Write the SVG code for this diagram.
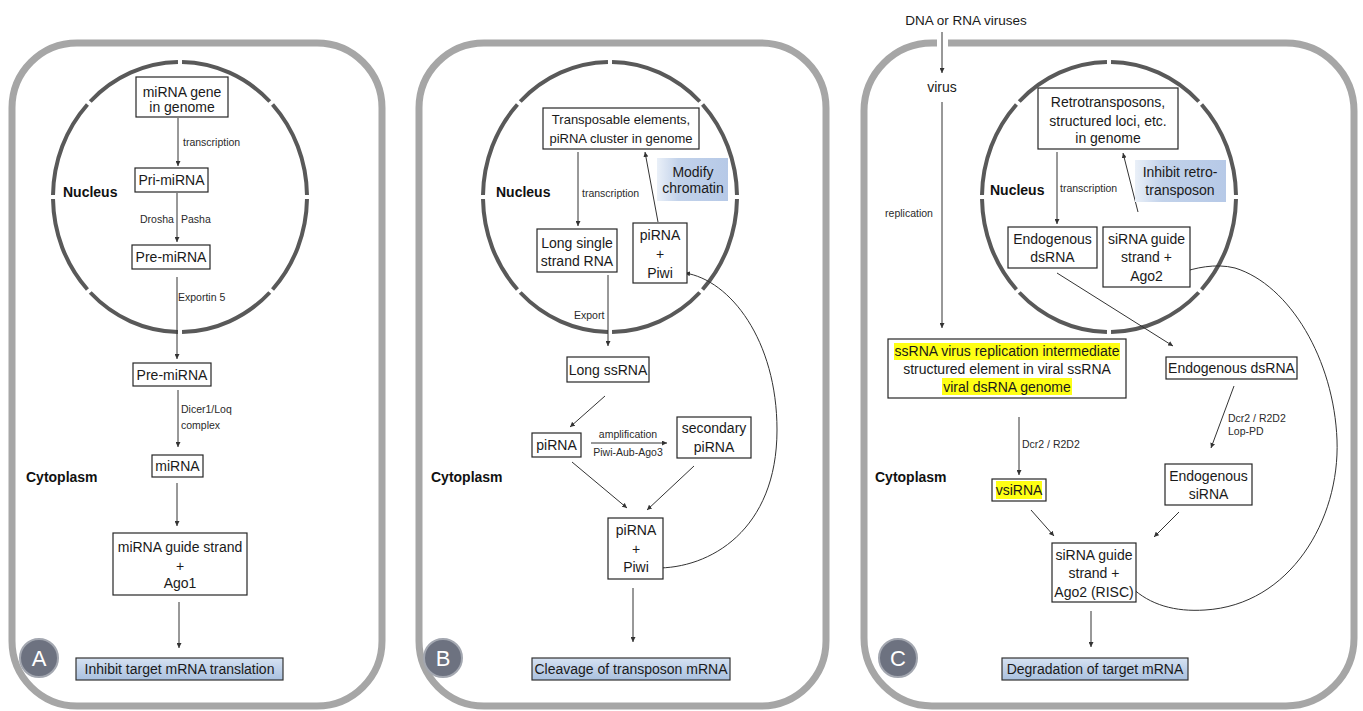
<svg xmlns="http://www.w3.org/2000/svg" width="1363" height="711" viewBox="0 0 1363 711">
<style>
.panel{fill:#fff;stroke:#a6a6a6;stroke-width:7}
.nuc{fill:none;stroke:#595959;stroke-width:4;stroke-dasharray:96 4;stroke-dashoffset:98}
.box{fill:#fff;stroke:#262626;stroke-width:1.2}
.res{fill:url(#resg);stroke:#333;stroke-width:1.2}
.eff{fill:url(#effg);stroke:none}
.t{font-family:"Liberation Sans",Arial,sans-serif;font-size:14px;fill:#1a1a1a}
.c{text-anchor:middle}
.s{font-family:"Liberation Sans",Arial,sans-serif;font-size:10.5px;fill:#2a2a2a}
.b{font-family:"Liberation Sans",Arial,sans-serif;font-size:14px;font-weight:bold;fill:#111}
.arr{fill:none;stroke:#333;stroke-width:1;marker-end:url(#ah)}
.cur{fill:none;stroke:#333;stroke-width:1}
.lab{fill:#6d7280;stroke:#a3a7b0;stroke-width:2}
.labt{font-family:"Liberation Sans",Arial,sans-serif;font-size:22px;fill:#fff;text-anchor:middle}
.hl{fill:#ffff14}
</style>
<defs>
<marker id="ah" viewBox="0 0 6 6" refX="6" refY="3" markerWidth="5" markerHeight="5" orient="auto" markerUnits="userSpaceOnUse"><path d="M0,0 L6,3 L0,6 z" fill="#333"/></marker>
<linearGradient id="resg" x1="0" y1="0" x2="0" y2="1"><stop offset="0" stop-color="#d6e2f2"/><stop offset="1" stop-color="#a9c0df"/></linearGradient>
<linearGradient id="effg" x1="0" y1="0" x2="1" y2="0"><stop offset="0" stop-color="#eaf0f8"/><stop offset="0.3" stop-color="#c2d2ea"/><stop offset="1" stop-color="#b6c9e7"/></linearGradient>
</defs>

<g id="panelA">
<rect class="panel" x="12" y="43" width="370" height="663" rx="65"/>
<ellipse class="nuc" cx="180" cy="197" rx="127" ry="135" pathLength="800"/>
<text class="b" x="63" y="197">Nucleus</text>
<text class="b" x="26" y="482">Cytoplasm</text>
</g>
<g id="panelB">
<rect class="panel" x="419" y="43" width="407" height="663" rx="65"/>
<ellipse class="nuc" cx="610" cy="197" rx="127" ry="135" pathLength="800"/>
<text class="b" x="496" y="197">Nucleus</text>
<text class="b" x="431" y="482">Cytoplasm</text>
</g>
<g id="panelC">
<rect class="panel" x="864" y="43" width="490" height="663" rx="68"/>
<rect x="937" y="37" width="11" height="12" fill="#fff"/>
<ellipse class="nuc" cx="1109" cy="197" rx="127" ry="135" pathLength="800"/>
<text class="b" x="990" y="195">Nucleus</text>
<text class="b" x="875" y="482">Cytoplasm</text>
</g>

<g id="connectors">
<path class="arr" d="M178,118 V166"/>
<path class="arr" d="M177,193 V242"/>
<path class="arr" d="M177,277 V359"/>
<path class="arr" d="M178,390 V447"/>
<path class="arr" d="M177,483 V526"/>
<path class="arr" d="M179,602 V648"/>

<path class="arr" d="M578,152 V226"/>
<path class="arr" d="M658,222 L645,152"/>
<path class="arr" d="M608,275 V346"/>
<path class="arr" d="M605,396 L570,427"/>
<path class="arr" d="M591,443 H667"/>
<path class="arr" d="M572,462 L627,508"/>
<path class="arr" d="M694,466 L647,510"/>
<path class="arr" d="M633,588 V642"/>
<path class="cur" d="M655,568 C710,569 777,530 777,430 C777,340 730,280 685,273" marker-end="url(#ah)"/>

<path class="arr" d="M942,32 V73"/>
<path class="arr" d="M942,102 V328"/>
<path class="arr" d="M1057,152 V224"/>
<path class="arr" d="M1138,212 L1123,153"/>
<path class="arr" d="M1057,273 L1173,346"/>
<path class="arr" d="M1234,386 L1211,448"/>
<path class="arr" d="M1019,417 V475"/>
<path class="arr" d="M1031,510 L1054,536"/>
<path class="arr" d="M1179,512 L1154,537"/>
<path class="arr" d="M1091,611 V647"/>
<path class="cur" d="M1131,587 C1150,605 1175,612 1205,610 C1290,605 1340,520 1337,440 C1334,360 1290,285 1235,268 C1215,263 1195,268 1180,273" marker-end="url(#ah)"/>
</g>

<g id="labels">
<text class="s" x="183" y="146">transcription</text>
<text class="s" x="140" y="223">Drosha</text>
<text class="s" x="181" y="223">Pasha</text>
<text class="s" x="178" y="301">Exportin 5</text>
<text class="s" x="181" y="413">Dicer1/Loq</text>
<text class="s" x="181" y="429">complex</text>
<text class="s" x="582" y="197">transcription</text>
<text class="s" x="574" y="319">Export</text>
<text class="s c" x="628" y="438">amplification</text>
<text class="s c" x="628" y="456">Piwi-Aub-Ago3</text>
<text class="t c" x="966" y="25" style="font-size:13.5px">DNA or RNA viruses</text>
<text class="t c" x="942" y="92">virus</text>
<text class="s c" x="909" y="217">replication</text>
<text class="s" x="1060" y="192">transcription</text>
<text class="s" x="1228" y="422">Dcr2 / R2D2</text>
<text class="s" x="1228" y="435">Lop-PD</text>
<text class="s" x="1022" y="448">Dcr2 / R2D2</text>
</g>

<g id="a-gene"><rect class="box" x="136" y="77" width="92" height="40"/><text class="t c" x="182" y="97">miRNA gene</text><text class="t c" x="182" y="112">in genome</text></g>
<g id="a-pri"><rect class="box" x="135" y="168" width="73" height="24"/><text class="t c" x="171.5" y="185">Pri-miRNA</text></g>
<g id="a-pre1"><rect class="box" x="132" y="245" width="78" height="24"/><text class="t c" x="171" y="262">Pre-miRNA</text></g>
<g id="a-pre2"><rect class="box" x="133" y="363" width="78" height="23"/><text class="t c" x="172" y="380">Pre-miRNA</text></g>
<g id="a-mirna"><rect class="box" x="152" y="455" width="51" height="22"/><text class="t c" x="177.5" y="471">miRNA</text></g>
<g id="a-guide"><rect class="box" x="113" y="533" width="134" height="62"/><text class="t c" x="180" y="552">miRNA guide strand</text><text class="t c" x="180" y="571">+</text><text class="t c" x="180" y="588">Ago1</text></g>
<g id="a-result"><rect class="res" x="76" y="658" width="207" height="22"/><text class="t c" x="179.5" y="674">Inhibit target mRNA translation</text></g>
<g id="a-label"><circle class="lab" cx="39" cy="658" r="19"/><text class="labt" x="39" y="666">A</text></g>

<g id="b-te"><rect class="box" x="543" y="108" width="156" height="41"/><text class="t c" x="621" y="124" style="font-size:13px">Transposable elements,</text><text class="t c" x="621" y="143" style="font-size:13px">piRNA cluster in genome</text></g>
<g id="b-modify"><rect class="eff" x="657" y="158" width="71" height="43"/><text class="t c" x="693" y="177">Modify</text><text class="t c" x="693" y="193">chromatin</text></g>
<g id="b-long1"><rect class="box" x="537" y="229" width="80" height="43"/><text class="t c" x="577" y="248">Long single</text><text class="t c" x="577" y="266">strand RNA</text></g>
<g id="b-piwi1"><rect class="box" x="633" y="223" width="54" height="60"/><text class="t c" x="660" y="240">piRNA</text><text class="t c" x="660" y="259">+</text><text class="t c" x="660" y="278">Piwi</text></g>
<g id="b-long2"><rect class="box" x="567" y="357" width="82" height="25"/><text class="t c" x="608" y="375">Long ssRNA</text></g>
<g id="b-pirna"><rect class="box" x="532" y="433" width="49" height="24"/><text class="t c" x="556.5" y="450">piRNA</text></g>
<g id="b-sec"><rect class="box" x="677" y="417" width="74" height="41"/><text class="t c" x="714" y="433">secondary</text><text class="t c" x="714" y="452">piRNA</text></g>
<g id="b-piwi2"><rect class="box" x="608" y="518" width="55" height="61"/><text class="t c" x="636" y="535">piRNA</text><text class="t c" x="636" y="554">+</text><text class="t c" x="636" y="572">Piwi</text></g>
<g id="b-result"><rect class="res" x="532" y="658" width="198" height="22"/><text class="t c" x="631" y="674">Cleavage of transposon mRNA</text></g>
<g id="b-label"><circle class="lab" cx="443" cy="658" r="19"/><text class="labt" x="443" y="666">B</text></g>

<g id="c-retro"><rect class="box" x="1038" y="88" width="140" height="61"/><text class="t c" x="1108" y="107">Retrotransposons,</text><text class="t c" x="1108" y="126">structured loci, etc.</text><text class="t c" x="1108" y="143">in genome</text></g>
<g id="c-inhibit"><rect class="eff" x="1135" y="160" width="91" height="42"/><text class="t c" x="1180" y="177">Inhibit retro-</text><text class="t c" x="1180" y="195">transposon</text></g>
<g id="c-endo1"><rect class="box" x="1008" y="227" width="89" height="41"/><text class="t c" x="1052.5" y="244">Endogenous</text><text class="t c" x="1052.5" y="262">dsRNA</text></g>
<g id="c-sirna1"><rect class="box" x="1103" y="227" width="87" height="60"/><text class="t c" x="1146.5" y="244">siRNA guide</text><text class="t c" x="1146.5" y="262">strand +</text><text class="t c" x="1146.5" y="281">Ago2</text></g>
<g id="c-viral"><rect class="box" x="888" y="339" width="238" height="59"/><rect class="hl" x="894" y="343" width="226" height="17"/><rect class="hl" x="942" y="378" width="130" height="17"/><text class="t c" x="1007" y="356">ssRNA virus replication intermediate</text><text class="t c" x="1007" y="374">structured element in viral ssRNA</text><text class="t c" x="1007" y="392">viral dsRNA genome</text></g>
<g id="c-endo2"><rect class="box" x="1166" y="357" width="131" height="22"/><text class="t c" x="1231.5" y="373">Endogenous dsRNA</text></g>
<g id="c-vsirna"><rect class="box" x="992" y="479" width="54" height="22"/><rect class="hl" x="996" y="481" width="46" height="18"/><text class="t c" x="1019" y="495">vsiRNA</text></g>
<g id="c-endosi"><rect class="box" x="1165" y="464" width="87" height="41"/><text class="t c" x="1208.5" y="481">Endogenous</text><text class="t c" x="1208.5" y="499">siRNA</text></g>
<g id="c-risc"><rect class="box" x="1052" y="543" width="84" height="59"/><text class="t c" x="1094" y="560">siRNA guide</text><text class="t c" x="1094" y="578">strand +</text><text class="t c" x="1094" y="597">Ago2 (RISC)</text></g>
<g id="c-result"><rect class="res" x="1002" y="658" width="186" height="22"/><text class="t c" x="1095" y="674">Degradation of target mRNA</text></g>
<g id="c-label"><circle class="lab" cx="898" cy="658" r="19"/><text class="labt" x="898" y="666">C</text></g>
</svg>
